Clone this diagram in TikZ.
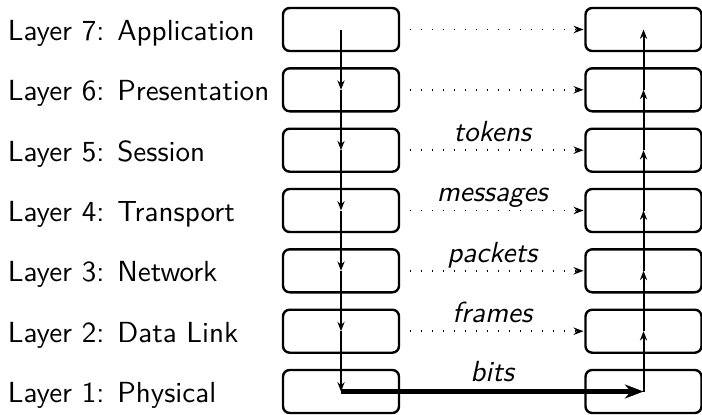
\documentclass[tikz,border=0pt]{standalone}
\usepackage{fontspec}
\setsansfont{lmsans10-regular.otf}[ItalicFont=lmsans10-oblique.otf, BoldFont=lmsans10-bold.otf]
\usetikzlibrary{arrows.meta}

\tikzset{
  layerbox/.style={draw, line width=1.8pt, rounded corners=5pt,
    minimum width=87pt, minimum height=32.25pt, inner sep=0pt, outer sep=0pt},
  layername/.style={font=\sffamily\fontsize{21.8}{26}\selectfont, anchor=base west, inner sep=0pt},
  unitname/.style={font=\sffamily\itshape\fontsize{21.8}{26}\selectfont, anchor=base, inner sep=0pt,
    midway, yshift=6.5pt},
  flow/.style={line width=1.5pt, -{Stealth[length=7pt,width=5.4pt,inset=2.3pt]}},
  peer/.style={line width=1.1pt, dash pattern=on 1.1pt off 7.15pt, shorten <=8pt, shorten >=1.5pt,
    -{Stealth[length=7.5pt,width=5.6pt,inset=2.5pt]}},
  wire/.style={line width=3.4pt, -{Stealth[length=14pt,width=10.5pt,inset=4.5pt]}}
}

\begin{document}
\begin{tikzpicture}[x=0.75pt, y=-0.75pt]
  \useasboundingbox (0,0) rectangle (702,414);

  % layer boxes on both hosts, row 7 at the top
  \foreach \n/\y in {7/29.5, 6/89.8, 5/150.2, 4/210.5, 3/270.8, 2/331.2, 1/391.5} {
    \node[layerbox] (L\n) at (341,\y) {};
    \node[layerbox] (R\n) at (643.5,\y) {};
  }

  % layer names
  \node[layername] (n7) at (7.5,40.6)  {Layer 7: Application};
  \node[layername] (n6) at (7.5,100.9) {Layer 6: Presentation};
  \node[layername] (n5) at (7.5,161.3) {Layer 5: Session};
  \node[layername] (n4) at (7.5,221.6) {Layer 4: Transport};
  \node[layername] (n3) at (7.5,281.9) {Layer 3: Network};
  \node[layername] (n2) at (7.5,342.3) {Layer 2: Data Link};
  \node[layername] (n1) at (7.5,402.6) {Layer 1: Physical};

  % peer-to-peer exchanges
  \draw[peer] (L7.east) -- (R7.west);
  \draw[peer] (L6.east) -- (R6.west);
  \draw[peer] (L5.east) -- node[unitname] {tokens} (R5.west);
  \draw[peer] (L4.east) -- node[unitname] {messages} (R4.west);
  \draw[peer] (L3.east) -- node[unitname] {packets} (R3.west);
  \draw[peer] (L2.east) -- node[unitname] {frames} (R2.west);

  % data path down the sender stack
  \foreach \a/\b in {7/6, 6/5, 5/4, 4/3, 3/2, 2/1}
    \draw[flow] (L\a.center) -- (L\b.center);

  % physical medium
  \draw[wire] (L1.center) -- node[unitname, yshift=1pt] {bits} (R1.center);

  % data path up the receiver stack
  \foreach \a/\b in {1/2, 2/3, 3/4, 4/5, 5/6, 6/7}
    \draw[flow] (R\a.center) -- (R\b.center);
\end{tikzpicture}
\end{document}
